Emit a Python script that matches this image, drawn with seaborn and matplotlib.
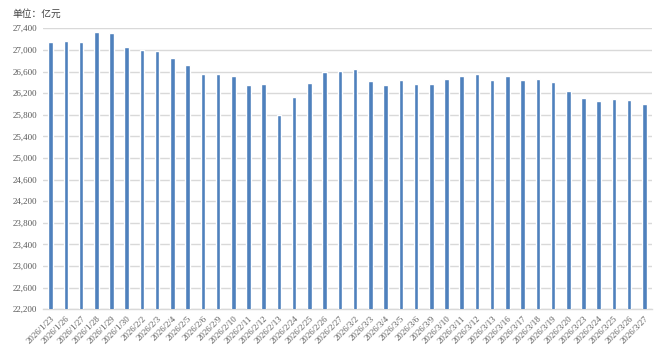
import matplotlib
matplotlib.use("Agg")
import matplotlib.pyplot as plt
import seaborn as sns
import pandas as pd
import numpy as np

dates = ["2026/1/23", "2026/1/26", "2026/1/27", "2026/1/28", "2026/1/29", "2026/1/30",
         "2026/2/2", "2026/2/3", "2026/2/4", "2026/2/5", "2026/2/6", "2026/2/9",
         "2026/2/10", "2026/2/11", "2026/2/12", "2026/2/13", "2026/2/24", "2026/2/25",
         "2026/2/26", "2026/2/27", "2026/3/2", "2026/3/3", "2026/3/4", "2026/3/5",
         "2026/3/6", "2026/3/9", "2026/3/10", "2026/3/11", "2026/3/12", "2026/3/13",
         "2026/3/16", "2026/3/17", "2026/3/18", "2026/3/19", "2026/3/20", "2026/3/23",
         "2026/3/24", "2026/3/25", "2026/3/26", "2026/3/27"]
values = [27140, 27165, 27140, 27332, 27307, 27060,
          27000, 26974, 26845, 26715, 26549, 26549,
          26512, 26351, 26369, 25790, 26135, 26382,
          26591, 26604, 26647, 26425, 26345, 26438,
          26369, 26369, 26462, 26523, 26560, 26438,
          26523, 26438, 26462, 26412, 26245, 26110,
          26055, 26092, 26080, 25999]
yticks = list(range(22200, 27401, 400))
unit_label = "单位：亿元"

df = pd.DataFrame({"date": dates, "value": values})

sns.set_theme(style="white")
plt.rcParams["font.family"] = ["Noto Sans CJK SC", "DejaVu Sans"]

fig = plt.figure(figsize=(6.65, 3.59), dpi=100)
ax = fig.add_axes([43 / 665, 1 - 309.3 / 359, (652 - 43) / 665, (309.3 - 28.3) / 359])

sns.barplot(data=df, x="date", y="value", color="#4F81BD", width=0.3,
            saturation=1, ax=ax, zorder=3)

ax.set_ylim(22200, 27400)
ax.set_xlim(-0.5, len(dates) - 0.5)
ax.set_yticks(yticks)
ax.set_yticklabels([f"{v:,}" for v in yticks], fontsize=6.5, color="#595959",
                   family="Liberation Serif")
ax.yaxis.grid(True, color="#D9D9D9", linewidth=1.0, zorder=0)
ax.xaxis.grid(False)
ax.set_xlabel("")
ax.set_ylabel("")

ax.set_xticks(np.arange(len(dates)))
ax.set_xticklabels(dates, rotation=45, ha="right", rotation_mode="anchor",
                   fontsize=6.3, color="#595959", family="Liberation Serif")
# minor ticks between categories
ax.set_xticks(np.arange(-0.5, len(dates), 1), minor=True)
ax.tick_params(axis="x", which="major", length=0, pad=4)
ax.tick_params(axis="x", which="minor", length=3, color="#D9D9D9", width=0.8, direction="out")
ax.tick_params(axis="y", length=0, pad=4)

for s in ["top", "right", "left"]:
    ax.spines[s].set_visible(False)
ax.spines["bottom"].set_color("#D9D9D9")
ax.spines["bottom"].set_linewidth(1.0)

fig.text(12 / 665, 1 - 14 / 359, unit_label, fontsize=7, color="#404040",
         va="center", ha="left")

fig.savefig("out.png", dpi=100)
